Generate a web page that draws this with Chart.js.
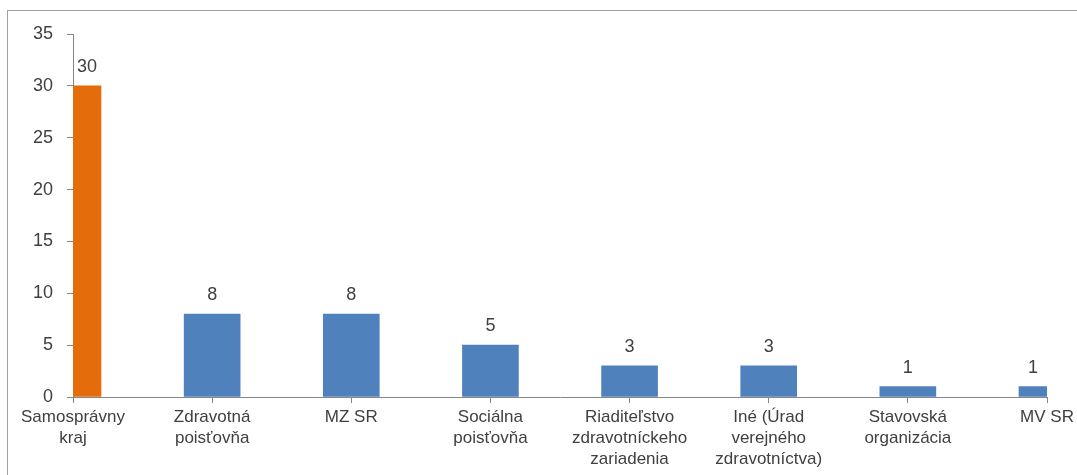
<!DOCTYPE html>
<html>
<head>
<meta charset="utf-8">
<script src="https://cdn.jsdelivr.net/npm/chart.js@4.4.1/dist/chart.umd.min.js"></script>
<style>
  html, body { margin: 0; padding: 0; background: #fff; }
  #wrap { position: relative; width: 1077px; height: 475px; overflow: hidden; }
  #frame { position: absolute; left: 7px; top: 10px; width: 1200px; height: 600px;
           border-left: 1px solid #a0a0a0; border-top: 1px solid #a0a0a0; }
  canvas { position: absolute; left: 0; top: 0; }
</style>
</head>
<body>
<div id="wrap">
  <div id="frame"></div>
  <canvas id="chart" width="1077" height="475"></canvas>
</div>
<script>
// Údaje grafu
const categories = [
  ['Samosprávny', 'kraj'],
  ['Zdravotná', 'poisťovňa'],
  'MZ SR',
  ['Sociálna', 'poisťovňa'],
  ['Riaditeľstvo', 'zdravotníckeho', 'zariadenia'],
  ['Iné (Úrad', 'verejného', 'zdravotníctva)'],
  ['Stavovská', 'organizácia'],
  'MV SR'
];
const counts = [30, 8, 8, 5, 3, 3, 1, 1];
const barColors = ['#E46C0A', '#4F81BD', '#4F81BD', '#4F81BD', '#4F81BD', '#4F81BD', '#4F81BD', '#4F81BD'];
const yTicks = [0, 5, 10, 15, 20, 25, 30, 35];

const TEXT = '#404040';
const AXIS = '#868686';
const FONT = "'Liberation Sans', Arial, sans-serif";

// Popisky hodnôt nad stĺpcami (centrované na viditeľnú časť stĺpca)
const valueLabels = {
  id: 'valueLabels',
  afterDatasetsDraw(chart) {
    const { ctx, chartArea } = chart;
    const meta = chart.getDatasetMeta(0);
    ctx.save();
    ctx.fillStyle = TEXT;
    ctx.font = '18px ' + FONT;
    ctx.textAlign = 'center';
    ctx.textBaseline = 'alphabetic';
    meta.data.forEach((bar, i) => {
      const l = Math.max(bar.x - bar.width / 2, chartArea.left);
      const r = Math.min(bar.x + bar.width / 2, chartArea.right);
      ctx.fillText(String(counts[i]), (l + r) / 2, bar.y - 14);
    });
    ctx.restore();
  }
};

new Chart(document.getElementById('chart'), {
  type: 'bar',
  data: {
    labels: categories,
    datasets: [{
      data: counts,
      backgroundColor: barColors,
      borderWidth: 0,
      barThickness: 56,
      clip: 0
    }]
  },
  options: {
    responsive: false,
    animation: false,
    layout: { padding: { top: 34, right: 30, bottom: 0, left: 0 } },
    plugins: { legend: { display: false }, tooltip: { enabled: false } },
    scales: {
      x: {
        offset: false,
        grid: { offset: false, drawOnChartArea: false, drawTicks: true, tickLength: 6, color: AXIS },
        border: { color: AXIS, width: 1 },
        ticks: {
          color: TEXT,
          font: { family: FONT, size: 17, lineHeight: 1.22 },
          maxRotation: 0,
          minRotation: 0,
          autoSkip: false,
          padding: 4
        },
        afterFit(scale) {
          scale.height = 78;
          scale.paddingLeft = 0;
          scale.paddingRight = 0;
        }
      },
      y: {
        min: 0,
        max: 35,
        afterBuildTicks(scale) {
          scale.ticks = yTicks.map(v => ({ value: v }));
        },
        grid: { drawOnChartArea: false, drawTicks: true, tickLength: 6, color: AXIS },
        border: { color: AXIS, width: 1 },
        ticks: {
          color: TEXT,
          font: { family: FONT, size: 18 },
          padding: 14
        },
        afterFit(scale) {
          scale.width = 73;
        }
      }
    }
  },
  plugins: [valueLabels]
});
</script>
</body>
</html>
